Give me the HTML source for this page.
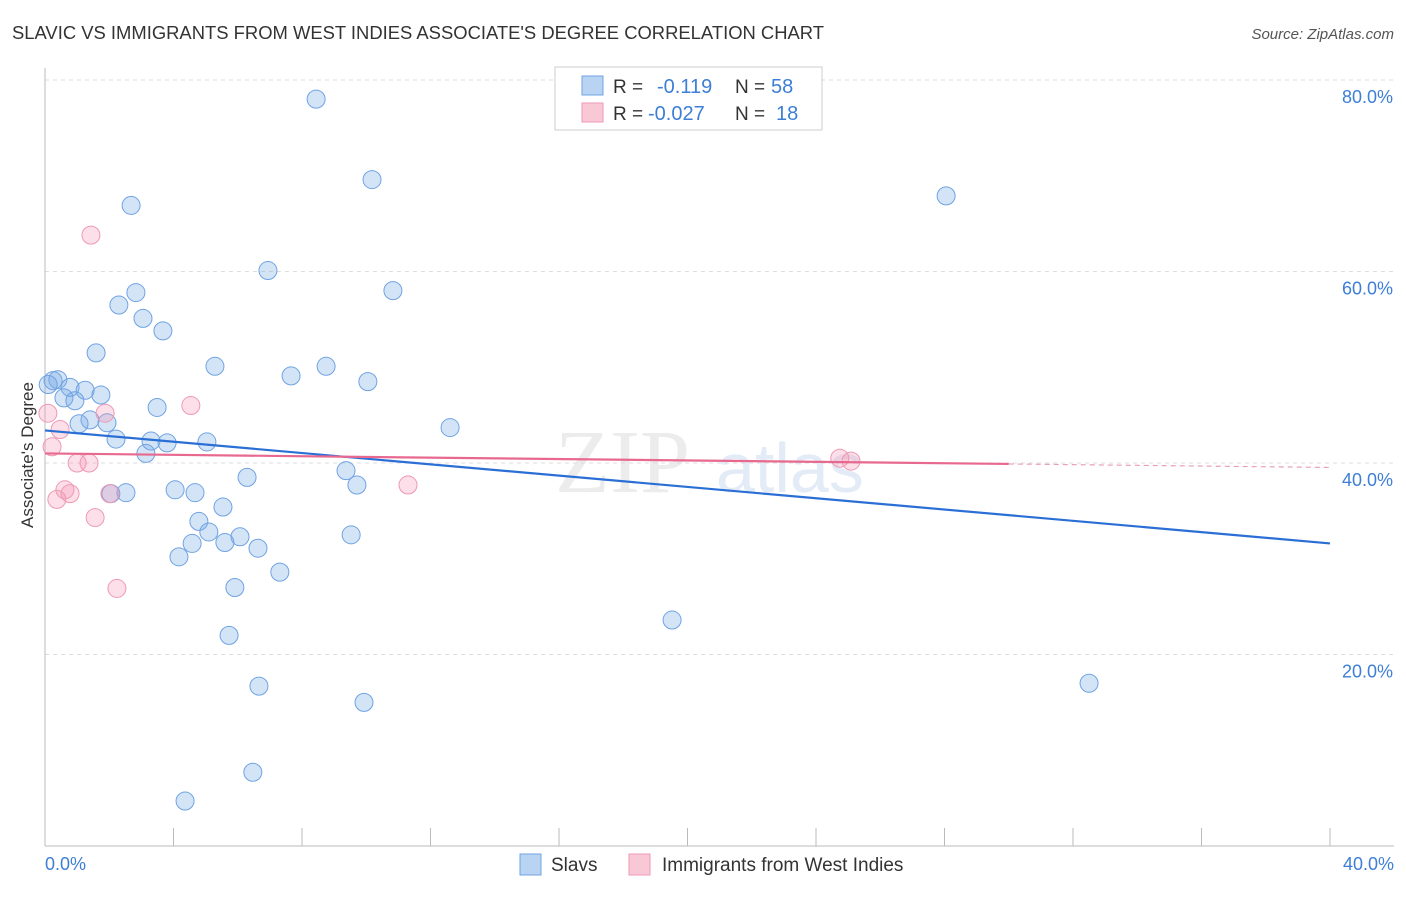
<!DOCTYPE html>
<html><head><meta charset="utf-8"><style>
body{margin:0;background:#fff;font-family:"Liberation Sans",sans-serif;}
</style></head><body>
<svg width="1406" height="892" viewBox="0 0 1406 892" xmlns="http://www.w3.org/2000/svg">
<text x="12" y="39" font-size="18" fill="#333" textLength="812" lengthAdjust="spacingAndGlyphs">SLAVIC VS IMMIGRANTS FROM WEST INDIES ASSOCIATE'S DEGREE CORRELATION CHART</text>
<text x="1394" y="39" font-size="15" fill="#555" text-anchor="end" font-style="italic">Source: ZipAtlas.com</text>
<g><text x="555" y="492" font-size="90" fill="#ececec" font-family="Liberation Serif,serif">ZIP</text><text x="716" y="492" font-size="70" fill="#e2ebf6">atlas</text></g>
<g id="grid"></g>
<line x1="45" y1="68" x2="45" y2="846" stroke="#bbb"/>
<line x1="45" y1="846" x2="1394" y2="846" stroke="#bbb"/>
<g id="xticks"></g>
<text x="33" y="455" font-size="17" fill="#333" text-anchor="middle" transform="rotate(-90 33 455)">Associate's Degree</text>
<text x="45" y="870" font-size="18" fill="#3d7fd6">0.0%</text>
<text x="1394" y="870" font-size="18" fill="#3d7fd6" text-anchor="end">40.0%</text>
<g id="points"></g>
<g id="trends"></g>
<g>
<rect x="555" y="67" width="267" height="63" fill="#fff" stroke="#ccc"/>
<rect x="582" y="76" width="21" height="19" fill="#b9d3f3" stroke="#6fa3e3"/>
<rect x="582" y="103" width="21" height="19" fill="#f9c8d6" stroke="#ee9ab4"/>
<text x="613" y="93" font-size="19" fill="#333">R =</text>
<text x="657" y="93" font-size="20" fill="#3d7fd6">-0.119</text>
<text x="735" y="93" font-size="19" fill="#333">N =</text>
<text x="771" y="93" font-size="20" fill="#3d7fd6">58</text>
<text x="613" y="120" font-size="19" fill="#333">R =</text>
<text x="648" y="120" font-size="20" fill="#3d7fd6">-0.027</text>
<text x="735" y="120" font-size="19" fill="#333">N =</text>
<text x="776" y="120" font-size="20" fill="#3d7fd6">18</text>
</g>
<g>
<rect x="520" y="854" width="21" height="21" fill="#b9d3f3" stroke="#6fa3e3"/>
<text x="551" y="871" font-size="19" fill="#333">Slavs</text>
<rect x="629" y="854" width="21" height="21" fill="#f9c8d6" stroke="#ee9ab4"/>
<text x="662" y="871" font-size="19" fill="#333">Immigrants from West Indies</text>
</g>
</svg>
<script>
const yTicks=[20,40,60,80];
const xTicks=[0,4,8,12,16,20,24,28,32,36,40];
const slavX=[8.44,10.18,2.68,28.05,6.94,10.83,2.83,2.30,3.05,3.67,1.59,5.29,8.75,7.66,10.05,0.25,0.40,0.78,1.25,1.74,0.59,0.93,3.49,1.40,1.93,1.06,12.61,2.21,3.30,3.80,5.04,3.14,9.37,9.71,6.29,4.05,4.67,2.52,2.05,5.54,4.79,5.10,9.53,6.07,4.58,5.60,6.63,4.17,7.31,5.91,19.52,5.73,6.66,32.5,9.93,6.47,4.36,0.1];
const slavY=[78.0,69.6,66.9,67.9,60.1,58.0,57.8,56.5,55.1,53.8,51.5,50.1,50.1,49.1,48.5,48.6,48.7,47.9,47.6,47.1,46.8,46.5,45.8,44.5,44.2,44.1,43.7,42.5,42.3,42.1,42.2,41.0,39.2,37.7,38.5,37.2,36.9,36.9,36.8,35.4,33.9,32.8,32.5,32.3,31.6,31.7,31.1,30.2,28.6,27.0,23.6,22.0,16.7,17.0,15.0,7.7,4.7,48.2];
const wiX=[1.43,4.54,1.87,0.09,0.47,0.22,1.0,1.37,24.74,25.09,11.30,0.62,0.78,0.37,2.02,1.56,2.24];
const wiY=[63.8,46.0,45.2,45.2,43.5,41.7,40.0,40.0,40.5,40.2,37.7,37.2,36.8,36.2,36.8,34.3,26.9];
const slavTrend=[43.4,31.6];
const wiTrend=[41.0,39.9,30];
const NS='http://www.w3.org/2000/svg';
const sx=v=>45+v/40*1285, sy=v=>846-v/20*191.5;
function mk(t,a,p){const e=document.createElementNS(NS,t);for(const k in a)e.setAttribute(k,a[k]);document.getElementById(p).appendChild(e);return e;}
yTicks.forEach(t=>{
 const l=mk('line',{x1:45,x2:1394,y1:sy(t),y2:sy(t),stroke:'#ddd','stroke-dasharray':'4,4'},'grid');
 
 
 const tx=mk('text',{x:1393,y:sy(t)+23,'font-size':18,fill:'#3d7fd6','text-anchor':'end'},'grid');
 tx.textContent=t.toFixed(1)+'%';
 
 
});
xTicks.forEach(t=>{
 const l=mk('line',{x1:sx(t),x2:sx(t),y1:828,y2:846,stroke:'#bbb'},'xticks');
 
 
});
slavX.forEach((x,i)=>{
 const c=mk('circle',{cx:sx(x),cy:sy(slavY[i]),r:9,fill:'rgba(120,170,230,0.32)',stroke:'#6fa3e3','stroke-width':1},'points');
 
 
});
wiX.forEach((x,i)=>{
 const c=mk('circle',{cx:sx(x),cy:sy(wiY[i]),r:9,fill:'rgba(245,150,180,0.3)',stroke:'#ee9ab4','stroke-width':1},'points');
 
 
});
const bt=mk('line',{x1:sx(0),y1:sy(slavTrend[0]),x2:sx(40),y2:sy(slavTrend[1]),stroke:'#2b6fd6','stroke-width':2.2},'trends');


const pt=mk('line',{x1:sx(0),y1:sy(wiTrend[0]),x2:sx(wiTrend[2]),y2:sy(wiTrend[1]),stroke:'#e8698f','stroke-width':2.2},'trends');


const slope=(wiTrend[1]-wiTrend[0])/wiTrend[2];
const pd=mk('line',{x1:sx(wiTrend[2]),y1:sy(wiTrend[1]),x2:sx(40),y2:sy(wiTrend[0]+slope*40),stroke:'#e8a0b6','stroke-width':1.2,'stroke-dasharray':'5,4'},'trends');


</script>
</body></html>
